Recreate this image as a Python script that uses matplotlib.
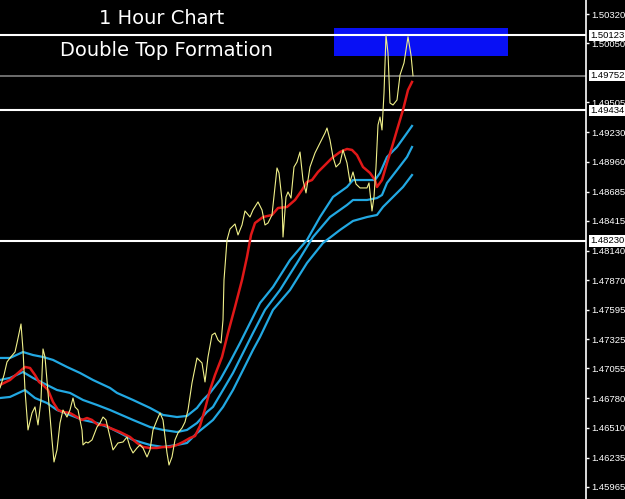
import matplotlib
matplotlib.use('Agg')
import matplotlib.pyplot as plt
import matplotlib.patches as patches

# bar positions (chart x units) and prices
close_x = [0, 4, 7, 10, 15, 17, 21, 23, 25, 28, 32, 35, 38, 41, 43, 45, 48, 52, 54, 57,
           60, 63, 67, 70, 73, 75, 78, 82, 83, 86, 88, 92, 97, 100, 103, 106, 110, 113, 118, 123,
           127, 130, 133, 137, 140, 143, 147, 150, 153, 157, 160, 163, 167, 169, 172, 175, 178, 182, 185, 188,
           192, 197, 202, 205, 208, 212, 215, 218, 221, 223, 224, 227, 230, 235, 238, 242, 245, 250, 253, 258,
           262, 265, 268, 272, 277, 279, 282, 283, 286, 288, 291, 294, 297, 300, 303, 306, 310, 315, 320, 325,
           327, 330, 333, 336, 340, 343, 347, 350, 353, 356, 360, 367, 369, 372, 374, 376, 378, 380, 382, 384,
           386, 388, 390, 393, 397, 400, 404, 408, 411, 413]
close_y = [1.46876, 1.46995, 1.47115, 1.47152, 1.47207, 1.47290, 1.47465, 1.47226, 1.46857, 1.46489,
           1.46645, 1.46701, 1.46535, 1.46765, 1.47235, 1.47161, 1.46830, 1.46397, 1.46194, 1.46305,
           1.46553, 1.46673, 1.46608, 1.46673, 1.46783, 1.46701, 1.46673, 1.46489, 1.46351, 1.46378,
           1.46369, 1.46397, 1.46516, 1.46553, 1.46608, 1.46581, 1.46424, 1.46305, 1.46369, 1.46378,
           1.46424, 1.46332, 1.46277, 1.46323, 1.46351, 1.46323, 1.46240, 1.46305, 1.46489, 1.46581,
           1.46645, 1.46581, 1.46277, 1.46166, 1.46240, 1.46397, 1.46461, 1.46507, 1.46562, 1.46673,
           1.46922, 1.47152, 1.47106, 1.46931, 1.47161, 1.47364, 1.47382, 1.47318, 1.47290, 1.47502,
           1.47870, 1.48239, 1.48340, 1.48386, 1.48285, 1.48377, 1.48506, 1.48450, 1.48515, 1.48589,
           1.48515, 1.48377, 1.48395, 1.48469, 1.48902, 1.48856, 1.48607, 1.48266, 1.48635, 1.48681,
           1.48625, 1.48911, 1.48957, 1.49049, 1.48791, 1.48672, 1.48911, 1.49040, 1.49132, 1.49224,
           1.49270, 1.49160, 1.49003, 1.48911, 1.48948, 1.49068, 1.48948, 1.48773, 1.48865, 1.48754,
           1.48718, 1.48718, 1.48764, 1.48506, 1.48635, 1.48911, 1.49298, 1.49371, 1.49252, 1.49592,
           1.50125, 1.49961, 1.49500, 1.49482, 1.49528, 1.49758, 1.49869, 1.50110, 1.49942, 1.49752]

ma_x = [0, 10, 18, 25, 30, 35, 39, 43, 48, 53, 58, 63, 70, 77, 82, 87, 92, 98, 105, 110,
        120, 130, 137, 143, 150, 157, 163, 170, 177, 183, 190, 195, 200, 205, 210, 215, 222, 228, 235, 242,
        247, 251, 255, 263, 272, 278, 287, 295, 302, 307, 312, 318, 325, 332, 340, 347, 352, 357, 363, 370,
        375, 377, 382, 387, 392, 397, 403, 408, 412]
ma_y = [1.46903, 1.46949, 1.47014, 1.47069, 1.47060, 1.46995, 1.46931, 1.46903, 1.46857, 1.46747,
        1.46673, 1.46655, 1.46645, 1.46608, 1.46581, 1.46599, 1.46581, 1.46535, 1.46535, 1.46507,
        1.46470, 1.46424, 1.46369, 1.46332, 1.46323, 1.46323, 1.46332, 1.46332, 1.46351, 1.46378,
        1.46415, 1.46433, 1.46526, 1.46682, 1.46857, 1.46995, 1.47161, 1.47382, 1.47622, 1.47870,
        1.48082, 1.48285, 1.48395, 1.48450, 1.48469, 1.48533, 1.48543, 1.48607, 1.48699, 1.48773,
        1.48791, 1.48865, 1.48929, 1.48994, 1.49049, 1.49077, 1.49068, 1.49021, 1.48911, 1.48856,
        1.48791, 1.48727, 1.48791, 1.48948, 1.49095, 1.49252, 1.49436, 1.49620, 1.49694]

upper_x = [0, 10, 23, 33, 43, 53, 67, 80, 93, 110, 117, 133, 150, 163, 177, 187, 197, 203, 210, 220,
           230, 240, 250, 260, 273, 290, 307, 320, 333, 347, 353, 367, 375, 380, 387, 397, 407, 412]
upper_y = [1.47152, 1.47152, 1.47207, 1.47179, 1.47161, 1.47134, 1.47069, 1.47014, 1.46949, 1.46876,
           1.46830, 1.46765, 1.46692, 1.46627, 1.46608, 1.46618, 1.46692, 1.46765, 1.46830, 1.46949,
           1.47115, 1.47290, 1.47474, 1.47658, 1.47806, 1.48054, 1.48239, 1.48450, 1.48635, 1.48727,
           1.48791, 1.48791, 1.48791, 1.48856, 1.49003, 1.49095, 1.49224, 1.49289]

mid_x = [0, 10, 23, 33, 47, 57, 70, 83, 97, 110, 117, 133, 150, 163, 177, 187, 197, 207, 213, 223,
         233, 243, 253, 265, 280, 297, 313, 330, 347, 353, 367, 377, 382, 387, 397, 407, 412]
mid_y = [1.46949, 1.46968, 1.47023, 1.46968, 1.46903, 1.46857, 1.46830, 1.46765, 1.46719, 1.46673,
         1.46645, 1.46581, 1.46516, 1.46489, 1.46470, 1.46489, 1.46553, 1.46655, 1.46701, 1.46857,
         1.47014, 1.47198, 1.47382, 1.47595, 1.47778, 1.48027, 1.48266, 1.48450, 1.48561, 1.48607,
         1.48607, 1.48625, 1.48653, 1.48764, 1.48883, 1.49003, 1.49095]

lower_x = [0, 10, 25, 35, 47, 57, 70, 83, 97, 110, 120, 133, 150, 163, 177, 187, 197, 207, 213, 223,
           233, 243, 253, 260, 273, 290, 307, 323, 340, 353, 367, 377, 383, 393, 403, 412]
lower_y = [1.46783, 1.46793, 1.46857, 1.46783, 1.46737, 1.46673, 1.46627, 1.46581, 1.46553, 1.46507,
           1.46461, 1.46397, 1.46351, 1.46332, 1.46351, 1.46369, 1.46461, 1.46535, 1.46581, 1.46701,
           1.46857, 1.47041, 1.47226, 1.47345, 1.47595, 1.47778, 1.48027, 1.48211, 1.48331, 1.48414,
           1.48450, 1.48469, 1.48543, 1.48635, 1.48727, 1.48837]

tick_prices = [1.50320, 1.50050, 1.49505, 1.49230, 1.48960, 1.48685, 1.48415, 1.48140, 1.47870,
               1.47595, 1.47325, 1.47055, 1.46780, 1.46510, 1.46235, 1.45965]
level_prices = [1.50123, 1.49434, 1.48230]
current_price = 1.49752
zone_top, zone_bottom = 1.50191, 1.49933
zone_left, zone_right = 334, 508

fig = plt.figure(figsize=(6.25, 4.99), dpi=100, facecolor='black')
ax = fig.add_axes([0, 0, 586 / 625, 1])
ax.set_facecolor('black')
ax.set_xlim(0, 586)
ax.set_ylim(1.45853, 1.50449)

# resistance zone
ax.add_patch(patches.Rectangle((zone_left, zone_bottom), zone_right - zone_left,
                               zone_top - zone_bottom, facecolor='#0810F5',
                               edgecolor='none', zorder=1))

for p in level_prices:
    ax.axhline(p, color='white', lw=1.5, zorder=2)
ax.axhline(current_price, color='#808080', lw=1.2, zorder=2)

ax.plot(lower_x, lower_y, color='#22A8E2', lw=1.6, zorder=3)
ax.plot(mid_x, mid_y, color='#22A8E2', lw=1.6, zorder=3)
ax.plot(upper_x, upper_y, color='#22A8E2', lw=1.6, zorder=3)
ax.plot(ma_x, ma_y, color='#E01818', lw=1.8, zorder=4)
ax.plot(close_x, close_y, color='#F0F08A', lw=0.8, zorder=5)

# right price scale
for s in ['top', 'left', 'bottom']:
    ax.spines[s].set_visible(False)
ax.spines['right'].set_color('white')
ax.spines['right'].set_linewidth(1.2)
ax.set_xticks([])
ax.yaxis.tick_right()
ax.set_yticks(tick_prices)
ax.set_yticklabels([f'{p:.5f}' for p in tick_prices])
ax.tick_params(axis='y', colors='white', labelsize=6.8, length=2.5, width=1, pad=1.5)
for lab in ax.get_yticklabels():
    lab.set_family('Liberation Sans')

for p in level_prices + [current_price]:
    ax.annotate(f'{p:.5f}', xy=(1, p), xycoords=('axes fraction', 'data'),
                xytext=(3, 0), textcoords='offset points', ha='left', va='center',
                fontsize=6.8, family='Liberation Sans', color='black', zorder=10,
                annotation_clip=False,
                bbox=dict(boxstyle='square,pad=0.12', facecolor='white', edgecolor='none'))

fig.text(162 / 625, 1 - 19 / 499, '1 Hour Chart', color='white', fontsize=14,
         ha='center', va='center')
fig.text(166 / 625, 1 - 50 / 499, 'Double Top Formation', color='white', fontsize=14,
         ha='center', va='center')

fig.savefig('out.png', dpi=100, facecolor='black')
